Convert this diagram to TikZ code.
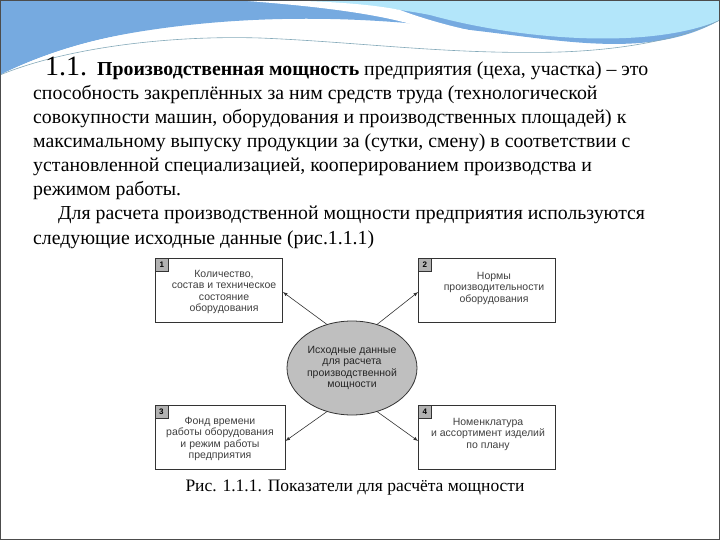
\documentclass[tikz,border=0pt]{standalone}
\usepackage{fontspec}
\usetikzlibrary{shapes.geometric}
\setmainfont{Liberation Serif}
\newfontfamily\dsans{Liberation Sans}
\newfontfamily\dserif{Liberation Serif}
\begin{document}
\begin{tikzpicture}[x=1pt,y=-1pt,
  line/.style={anchor=west,font=\dserif\fontsize{19.8}{22}\selectfont,inner sep=0},
  box/.style={draw=black!80,line width=0.8pt,minimum width=#1,minimum height=64pt,inner sep=0},
  lbl/.style={font=\dsans\fontsize{10.5}{11.5}\selectfont,text=black!75,align=center},
  num/.style={draw=black!80,fill=black!30,minimum size=13pt,inner sep=0,font=\dsans\bfseries\fontsize{8}{8}\selectfont,anchor=north west},
  arr/.style={-latex,line width=0.6pt,black!80}]
\useasboundingbox (0,0) rectangle (720,540);
\fill[white] (0,0) rectangle (720,540);
% top wave
\fill[cyan!60!blue!55] (0,0) -- (720,0) -- (720,20) .. controls (650,60) and (560,40) .. (470,30) .. controls (360,15) and (250,15) .. (150,30) .. controls (80,40) and (30,60) .. (0,75) -- cycle;
\fill[cyan!30] (230,0) -- (720,0) -- (720,20) .. controls (650,50) and (520,40) .. (430,15) .. controls (380,5) and (300,0) .. (230,0);
\fill[white] (235,0) .. controls (300,5) and (380,12) .. (430,30) .. controls (470,40) and (520,45) .. (560,42) .. controls (500,40) and (440,25) .. (400,10) .. controls (360,2) and (300,0) .. (235,0);
\fill[white] (0,75) .. controls (40,55) and (100,35) .. (150,32) .. controls (250,20) and (380,25) .. (470,45) .. controls (560,60) and (650,58) .. (720,30) -- (720,80) -- (0,80) -- cycle;
\draw[cyan!50!black!60,line width=0.6pt] (0,75) .. controls (60,50) and (160,35) .. (260,38) .. controls (360,42) and (450,55) .. (560,52) .. controls (620,50) and (680,40) .. (720,20);
\draw[black!70,line width=0.8pt] (0.5,0.5) rectangle (719.5,539.5);
% text
\node[line] (t0) at (45,68) {\fontsize{28}{30}\selectfont 1.1.\hspace{10pt}\fontsize{19.8}{22}\selectfont\textbf{Производственная мощность} предприятия (цеха, участка) – это};
\node[line] (t1) at (33,95) {способность закреплённых за ним средств труда (технологической};
\node[line] (t2) at (33,119) {совокупности машин, оборудования и производственных площадей) к};
\node[line] (t3) at (33,143) {максимальному выпуску продукции за (сутки, смену) в соответствии с};
\node[line] (t4) at (33,167) {установленной специализацией, кооперированием производства и};
\node[line] (t5) at (33,191) {режимом работы.};
\node[line] (t6) at (58,215) {Для расчета производственной мощности предприятия используются};
\node[line] (t7) at (33,240) {следующие исходные данные (рис.1.1.1)};
% diagram
\node[box=127pt] (b1) at (219,290) {};
\node[box=137pt] (b2) at (487,290) {};
\node[box=130pt] (b3) at (220,437) {};
\node[box=137pt] (b4) at (487,437) {};
\node[num] (n1) at (b1.north west) {1};
\node[num] (n2) at (b2.north west) {2};
\node[num] (n3) at (b3.north west) {3};
\node[num] (n4) at (b4.north west) {4};
\node[lbl] (l1) at (224,292) {Количество,\\состав и техническое\\состояние\\оборудования};
\node[lbl] (l2) at (494,288) {Нормы\\производительности\\оборудования};
\node[lbl] (l3) at (220,439) {Фонд времени\\работы оборудования\\и режим работы\\предприятия};
\node[lbl] (l4) at (488,434) {Номенклатура\\и ассортимент изделий\\по плану};
\node[ellipse,draw=black!80,fill=black!25,line width=0.8pt,minimum width=130pt,minimum height=94pt,inner sep=0] (e) at (352,368) {};
\node[lbl,text=black!85] (le) at (352,368) {Исходные данные\\для расчета\\производственной\\мощности};
\draw[arr] (e.120) -- (b1.east |- 0,292);
\draw[arr] (e.60) -- (b2.west |- 0,292);
\draw[arr] (e.240) -- (b3.east |- 0,441);
\draw[arr] (e.300) -- (b4.west |- 0,441);
\node[font=\dserif\fontsize{17.5}{19}\selectfont] (cap) at (355,488) {Рис. 1.1.1. Показатели для расчёта мощности};
\end{tikzpicture}
\end{document}
